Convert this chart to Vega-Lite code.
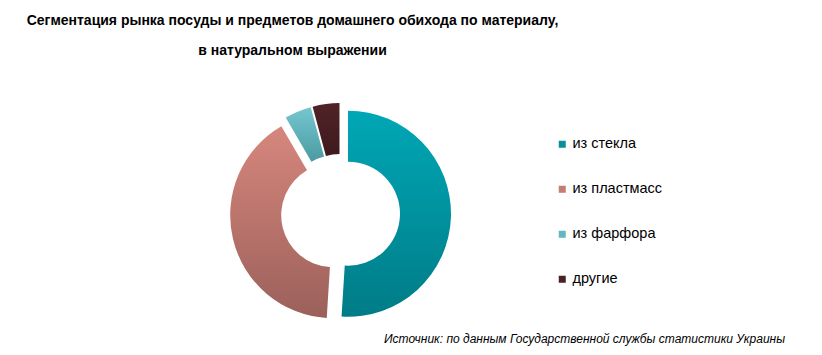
{
  "$schema": "https://vega.github.io/schema/vega-lite/v6.json",
  "autosize": "none",
  "width": 681,
  "height": 207,
  "padding": {"left": 0, "top": 110, "right": 141, "bottom": 38},
  "background": "white",
  "title": {
    "text": ["Сегментация рынка посуды и предметов домашнего обихода по материалу,", "в натуральном выражении"],
    "anchor": "middle",
    "frame": "group",
    "dx": -48,
    "offset": 45,
    "font": "Liberation Sans",
    "fontSize": 14,
    "fontWeight": "bold",
    "color": "#000000",
    "lineHeight": 30
  },
  "datasets": {
    "shares": [
      {"material": "из стекла", "value": 51, "order": 1},
      {"material": "из пластмасс", "value": 40.6, "order": 2},
      {"material": "из фарфора", "value": 4.2, "order": 3},
      {"material": "другие", "value": 4.2, "order": 4}
    ],
    "note": [
      {"source": "Источник: по данным Государственной службы статистики Украины"}
    ]
  },
  "data": {"name": "shares"},
  "layer": [
    {
      "mark": {"type": "arc", "innerRadius": 52, "outerRadius": 103, "opacity": 0},
      "encoding": {
        "theta": {"field": "value", "type": "quantitative", "stack": true, "scale": {"domain": [0, 100]}},
        "order": {"field": "order", "type": "quantitative"},
        "color": {
          "field": "material",
          "type": "nominal",
          "sort": ["из стекла", "из пластмасс", "из фарфора", "другие"],
          "scale": {
            "domain": ["из стекла", "из пластмасс", "из фарфора", "другие"],
            "range": ["#0a8e99", "#c57c73", "#63b7bf", "#4a2125"]
          },
          "legend": {
            "title": null,
            "orient": "none",
            "legendX": 555,
            "legendY": 27,
            "padding": 0,
            "symbolType": "square",
            "symbolSize": 49,
            "symbolStrokeWidth": 0,
            "symbolOpacity": 1,
            "labelFont": "Liberation Sans",
            "labelFontSize": 14.5,
            "labelColor": "#000000",
            "labelOffset": 3,
            "rowPadding": 30
          }
        }
      }
    },
    {
      "transform": [
        {"stack": "value", "groupby": [], "sort": [{"field": "order", "order": "ascending"}], "as": ["v0", "v1"]},
        {"filter": "datum.order == 1"}
      ],
      "mark": {
        "type": "arc", "innerRadius": 52, "outerRadius": 103, "xOffset": 7.5, "yOffset": 0.2,
        "fill": {"gradient": "linear", "x1": 0, "y1": 0, "x2": 0, "y2": 1,
          "stops": [{"offset": 0, "color": "#00a7b6"}, {"offset": 1, "color": "#007c87"}]}
      },
      "encoding": {
        "theta": {"field": "v0", "type": "quantitative"},
        "theta2": {"field": "v1"}
      }
    },
    {
      "transform": [
        {"stack": "value", "groupby": [], "sort": [{"field": "order", "order": "ascending"}], "as": ["v0", "v1"]},
        {"filter": "datum.order == 2"}
      ],
      "mark": {
        "type": "arc", "innerRadius": 52, "outerRadius": 103, "xOffset": -7.3, "yOffset": 1.7,
        "fill": {"gradient": "linear", "x1": 0, "y1": 0, "x2": 0, "y2": 1,
          "stops": [{"offset": 0, "color": "#d6877d"}, {"offset": 1, "color": "#9b605b"}]}
      },
      "encoding": {
        "theta": {"field": "v0", "type": "quantitative"},
        "theta2": {"field": "v1"}
      }
    },
    {
      "transform": [
        {"stack": "value", "groupby": [], "sort": [{"field": "order", "order": "ascending"}], "as": ["v0", "v1"]},
        {"filter": "datum.order == 3"}
      ],
      "mark": {
        "type": "arc", "innerRadius": 52, "outerRadius": 103, "xOffset": -2.9, "yOffset": -6.9,
        "fill": {"gradient": "linear", "x1": 0, "y1": 0, "x2": 0, "y2": 1,
          "stops": [{"offset": 0, "color": "#75c7cf"}, {"offset": 1, "color": "#4b9aa2"}]}
      },
      "encoding": {
        "theta": {"field": "v0", "type": "quantitative"},
        "theta2": {"field": "v1"}
      }
    },
    {
      "transform": [
        {"stack": "value", "groupby": [], "sort": [{"field": "order", "order": "ascending"}], "as": ["v0", "v1"]},
        {"filter": "datum.order == 4"}
      ],
      "mark": {
        "type": "arc", "innerRadius": 52, "outerRadius": 103, "xOffset": -1.0, "yOffset": -7.4,
        "fill": {"gradient": "linear", "x1": 0, "y1": 0, "x2": 0, "y2": 1,
          "stops": [{"offset": 0, "color": "#502327"}, {"offset": 1, "color": "#3e1a1d"}]}
      },
      "encoding": {
        "theta": {"field": "v0", "type": "quantitative"},
        "theta2": {"field": "v1"}
      }
    },
    {
      "data": {"name": "note"},
      "mark": {
        "type": "text",
        "x": {"expr": "width + 104"},
        "y": {"expr": "height + 26"},
        "align": "right",
        "baseline": "alphabetic",
        "font": "Liberation Sans",
        "fontSize": 12,
        "fontStyle": "italic",
        "color": "#000000"
      },
      "encoding": {"text": {"field": "source", "type": "nominal"}}
    }
  ],
  "config": {"view": {"stroke": null}}
}
